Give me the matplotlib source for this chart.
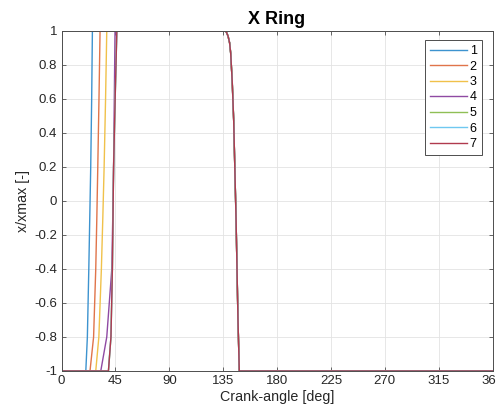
import matplotlib
matplotlib.use("Agg")
import matplotlib.pyplot as plt
import numpy as np

plt.rcParams['font.family'] = ['Liberation Sans', 'DejaVu Sans']

labels = ['1', '2', '3', '4', '5', '6', '7']
colors = ['#3d93cf', '#e0744a', '#f0c14a', '#8f4aa3', '#8fbf55', '#6fc8f0', '#b03a4e']

# rising edges (crank angle, value)
rise_x = [
    [20.3, 21.6, 22.8, 23.6, 24.4, 25.2, 25.8],
    [23.8, 26.8, 28.6, 29.5, 30.3, 31.3, 32.2],
    [28.6, 31.2, 33.3, 34.5, 35.6, 36.8, 37.8],
    [32.8, 37.8, 42.0, 42.8, 43.5, 44.1, 44.7],
    [39.2, 41.3, 42.5, 43.0, 43.5, 44.8, 46.2],
    [39.2, 41.3, 42.5, 43.0, 43.5, 44.8, 46.2],
    [39.2, 41.3, 42.5, 43.0, 43.5, 44.8, 46.2],
]
rise_y = [-1.0, -0.8, -0.4, -0.1, 0.2, 0.6, 1.0]

# common falling edge
fall_x = [136.2, 137.6, 139.1, 140.4, 141.3, 142.6, 143.8, 145.8, 147.4, 148.5]
fall_y = [1.0, 0.995, 0.97, 0.93, 0.87, 0.70, 0.476, -0.11, -0.70, -1.0]

x_start, x_end = 0, 360

fig = plt.figure(figsize=(4.96, 4.13), dpi=100)
ax = fig.add_axes([0.124, 0.1017, 0.869, 0.8233])

for i in range(len(labels)):
    xs = [x_start] + rise_x[i] + fall_x + [x_end]
    ys = [-1.0] + rise_y + fall_y + [-1.0]
    ax.plot(xs, ys, color=colors[i], lw=1.0, label=labels[i],
            solid_joinstyle='round')

ax.set_xlim(0, 360)
ax.set_ylim(-1, 1)
ax.set_xticks(np.arange(0, 361, 45))
ax.set_yticks(np.round(np.arange(-1, 1.01, 0.2), 1))
ax.set_yticklabels(['-1', '-0.8', '-0.6', '-0.4', '-0.2', '0', '0.2', '0.4', '0.6', '0.8', '1'])
ax.grid(True, color='#e3e3e3', lw=0.6)
ax.set_axisbelow(True)
ax.tick_params(direction='in', length=3, top=True, right=True, labelsize=9.5,
               color='#4d4d4d', labelcolor='#262626', width=0.6, pad=3)
for s in ax.spines.values():
    s.set_color('#4d4d4d')
    s.set_linewidth(0.7)

ax.set_xlabel('Crank-angle [deg]', fontsize=10.3, color='#262626', labelpad=2)
ax.set_ylabel('x/xmax [-]', fontsize=10.3, color='#262626', labelpad=3)
ax.set_title('X Ring', fontsize=13, fontweight='bold', pad=5)

leg = ax.legend(loc='upper right', bbox_to_anchor=(481.7 / 496, 1 - 40 / 413),
                bbox_transform=fig.transFigure, fontsize=9, handlelength=3.0,
                handletextpad=0.2, labelspacing=0.28, borderpad=0.4,
                borderaxespad=0, fancybox=False, framealpha=1, edgecolor='#4d4d4d')
leg.get_frame().set_linewidth(0.7)

fig.savefig('out.png', dpi=100)
